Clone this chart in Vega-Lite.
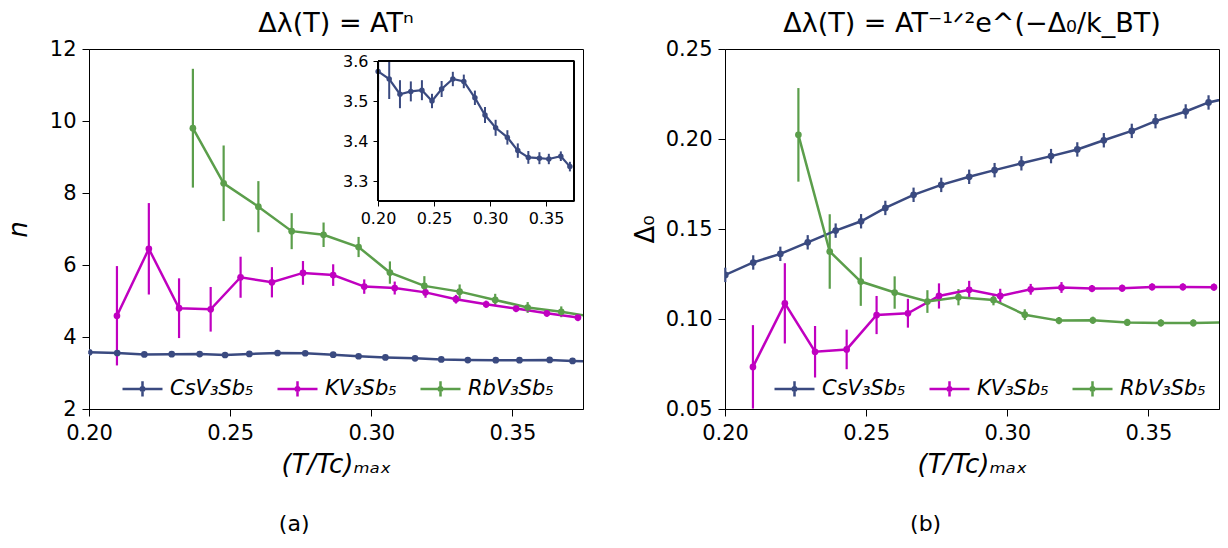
{
  "$schema": "https://vega.github.io/schema/vega-lite/v6.json",
  "background": "white",
  "padding": {"left": 4, "top": 9, "right": 5, "bottom": 5},
  "config": {
    "font": "DejaVu Sans",
    "view": {"stroke": "black", "strokeWidth": 1},
    "axis": {"grid": false, "labelFont": "DejaVu Sans", "labelFontSize": 21, "labelColor": "black", "tickColor": "black", "domainColor": "black", "tickSize": 7, "labelPadding": 6, "labelFlush": false, "labelOverlap": false, "titleFont": "DejaVu Sans", "titleFontSize": 24, "titleFontWeight": "normal", "titleColor": "black"},
    "title": {"font": "DejaVu Sans", "fontSize": 27, "fontWeight": "normal", "color": "black"},
    "legend": {"labelFont": "DejaVu Sans", "labelFontSize": 21, "labelFontStyle": "italic", "labelColor": "black", "symbolType": "M-1,0H1M0,-0.38V0.38M0.09,0A0.09,0.09 0 1,1 -0.09,0A0.09,0.09 0 1,1 0.09,0", "symbolSize": 1600, "symbolStrokeWidth": 2.5, "labelOffset": 6, "columnPadding": 18, "padding": 0}
  },
  "datasets": {
    "a": [
      {"s": "CsV₃Sb₅", "x": 0.2001, "y": 3.574, "e": 0.05},
      {"s": "CsV₃Sb₅", "x": 0.2100, "y": 3.555, "e": 0.05},
      {"s": "CsV₃Sb₅", "x": 0.2196, "y": 3.517, "e": 0.035},
      {"s": "CsV₃Sb₅", "x": 0.2293, "y": 3.524, "e": 0.025},
      {"s": "CsV₃Sb₅", "x": 0.2392, "y": 3.527, "e": 0.025},
      {"s": "CsV₃Sb₅", "x": 0.2482, "y": 3.500, "e": 0.018},
      {"s": "CsV₃Sb₅", "x": 0.2568, "y": 3.530, "e": 0.02},
      {"s": "CsV₃Sb₅", "x": 0.2668, "y": 3.555, "e": 0.018},
      {"s": "CsV₃Sb₅", "x": 0.2766, "y": 3.549, "e": 0.017},
      {"s": "CsV₃Sb₅", "x": 0.2865, "y": 3.508, "e": 0.018},
      {"s": "CsV₃Sb₅", "x": 0.2955, "y": 3.465, "e": 0.02},
      {"s": "CsV₃Sb₅", "x": 0.3050, "y": 3.433, "e": 0.02},
      {"s": "CsV₃Sb₅", "x": 0.3155, "y": 3.409, "e": 0.018},
      {"s": "CsV₃Sb₅", "x": 0.3248, "y": 3.376, "e": 0.018},
      {"s": "CsV₃Sb₅", "x": 0.3342, "y": 3.359, "e": 0.016},
      {"s": "CsV₃Sb₅", "x": 0.3441, "y": 3.357, "e": 0.015},
      {"s": "CsV₃Sb₅", "x": 0.3525, "y": 3.355, "e": 0.013},
      {"s": "CsV₃Sb₅", "x": 0.3632, "y": 3.362, "e": 0.012},
      {"s": "CsV₃Sb₅", "x": 0.3713, "y": 3.336, "e": 0.012},
      {"s": "CsV₃Sb₅", "x": 0.3805, "y": 3.320, "e": 0.01},
      {"s": "KV₃Sb₅", "x": 0.2099, "y": 4.59, "e": 1.38},
      {"s": "KV₃Sb₅", "x": 0.2212, "y": 6.45, "e": 1.27},
      {"s": "KV₃Sb₅", "x": 0.2319, "y": 4.80, "e": 0.83},
      {"s": "KV₃Sb₅", "x": 0.2431, "y": 4.77, "e": 0.62},
      {"s": "KV₃Sb₅", "x": 0.2537, "y": 5.66, "e": 0.57},
      {"s": "KV₃Sb₅", "x": 0.2648, "y": 5.52, "e": 0.42},
      {"s": "KV₃Sb₅", "x": 0.2758, "y": 5.78, "e": 0.33},
      {"s": "KV₃Sb₅", "x": 0.2865, "y": 5.72, "e": 0.30},
      {"s": "KV₃Sb₅", "x": 0.2975, "y": 5.40, "e": 0.20},
      {"s": "KV₃Sb₅", "x": 0.3083, "y": 5.36, "e": 0.18},
      {"s": "KV₃Sb₅", "x": 0.3192, "y": 5.24, "e": 0.15},
      {"s": "KV₃Sb₅", "x": 0.3300, "y": 5.05, "e": 0.12},
      {"s": "KV₃Sb₅", "x": 0.3407, "y": 4.91, "e": 0.10},
      {"s": "KV₃Sb₅", "x": 0.3513, "y": 4.79, "e": 0.10},
      {"s": "KV₃Sb₅", "x": 0.3622, "y": 4.66, "e": 0.10},
      {"s": "KV₃Sb₅", "x": 0.3732, "y": 4.54, "e": 0.10},
      {"s": "RbV₃Sb₅", "x": 0.2368, "y": 9.80, "e": 1.65},
      {"s": "RbV₃Sb₅", "x": 0.2477, "y": 8.27, "e": 1.05},
      {"s": "RbV₃Sb₅", "x": 0.2600, "y": 7.62, "e": 0.71},
      {"s": "RbV₃Sb₅", "x": 0.2718, "y": 6.94, "e": 0.50},
      {"s": "RbV₃Sb₅", "x": 0.2831, "y": 6.84, "e": 0.34},
      {"s": "RbV₃Sb₅", "x": 0.2955, "y": 6.50, "e": 0.28},
      {"s": "RbV₃Sb₅", "x": 0.3066, "y": 5.79, "e": 0.31},
      {"s": "RbV₃Sb₅", "x": 0.3188, "y": 5.42, "e": 0.27},
      {"s": "RbV₃Sb₅", "x": 0.3313, "y": 5.26, "e": 0.20},
      {"s": "RbV₃Sb₅", "x": 0.3439, "y": 5.03, "e": 0.17},
      {"s": "RbV₃Sb₅", "x": 0.3554, "y": 4.82, "e": 0.15},
      {"s": "RbV₃Sb₅", "x": 0.3673, "y": 4.70, "e": 0.15},
      {"s": "RbV₃Sb₅", "x": 0.3790, "y": 4.55, "e": 0.12}
    ],
    "b": [
      {"s": "CsV₃Sb₅", "x": 0.2001, "y": 0.1245, "e": 0.004},
      {"s": "CsV₃Sb₅", "x": 0.2100, "y": 0.1314, "e": 0.004},
      {"s": "CsV₃Sb₅", "x": 0.2196, "y": 0.1362, "e": 0.004},
      {"s": "CsV₃Sb₅", "x": 0.2293, "y": 0.1426, "e": 0.004},
      {"s": "CsV₃Sb₅", "x": 0.2392, "y": 0.1491, "e": 0.004},
      {"s": "CsV₃Sb₅", "x": 0.2482, "y": 0.1543, "e": 0.004},
      {"s": "CsV₃Sb₅", "x": 0.2568, "y": 0.1617, "e": 0.004},
      {"s": "CsV₃Sb₅", "x": 0.2668, "y": 0.1690, "e": 0.004},
      {"s": "CsV₃Sb₅", "x": 0.2766, "y": 0.1745, "e": 0.004},
      {"s": "CsV₃Sb₅", "x": 0.2865, "y": 0.1790, "e": 0.004},
      {"s": "CsV₃Sb₅", "x": 0.2955, "y": 0.1827, "e": 0.004},
      {"s": "CsV₃Sb₅", "x": 0.3050, "y": 0.1865, "e": 0.004},
      {"s": "CsV₃Sb₅", "x": 0.3155, "y": 0.1905, "e": 0.004},
      {"s": "CsV₃Sb₅", "x": 0.3248, "y": 0.1942, "e": 0.004},
      {"s": "CsV₃Sb₅", "x": 0.3342, "y": 0.1993, "e": 0.004},
      {"s": "CsV₃Sb₅", "x": 0.3441, "y": 0.2045, "e": 0.004},
      {"s": "CsV₃Sb₅", "x": 0.3525, "y": 0.2099, "e": 0.004},
      {"s": "CsV₃Sb₅", "x": 0.3632, "y": 0.2153, "e": 0.004},
      {"s": "CsV₃Sb₅", "x": 0.3713, "y": 0.2203, "e": 0.004},
      {"s": "CsV₃Sb₅", "x": 0.3805, "y": 0.2235, "e": 0.004},
      {"s": "KV₃Sb₅", "x": 0.2099, "y": 0.0734, "e": 0.0232},
      {"s": "KV₃Sb₅", "x": 0.2212, "y": 0.1087, "e": 0.0223},
      {"s": "KV₃Sb₅", "x": 0.2319, "y": 0.0818, "e": 0.0143},
      {"s": "KV₃Sb₅", "x": 0.2431, "y": 0.0831, "e": 0.011},
      {"s": "KV₃Sb₅", "x": 0.2537, "y": 0.1022, "e": 0.0106},
      {"s": "KV₃Sb₅", "x": 0.2648, "y": 0.1032, "e": 0.008},
      {"s": "KV₃Sb₅", "x": 0.2758, "y": 0.1128, "e": 0.007},
      {"s": "KV₃Sb₅", "x": 0.2865, "y": 0.1162, "e": 0.005},
      {"s": "KV₃Sb₅", "x": 0.2975, "y": 0.1128, "e": 0.004},
      {"s": "KV₃Sb₅", "x": 0.3083, "y": 0.1165, "e": 0.003},
      {"s": "KV₃Sb₅", "x": 0.3192, "y": 0.1175, "e": 0.003},
      {"s": "KV₃Sb₅", "x": 0.3300, "y": 0.1169, "e": 0.002},
      {"s": "KV₃Sb₅", "x": 0.3407, "y": 0.1171, "e": 0.002},
      {"s": "KV₃Sb₅", "x": 0.3513, "y": 0.1178, "e": 0.002},
      {"s": "KV₃Sb₅", "x": 0.3622, "y": 0.1178, "e": 0.002},
      {"s": "KV₃Sb₅", "x": 0.3732, "y": 0.1177, "e": 0.002},
      {"s": "RbV₃Sb₅", "x": 0.2260, "y": 0.2023, "e": 0.026},
      {"s": "RbV₃Sb₅", "x": 0.2371, "y": 0.1375, "e": 0.0207},
      {"s": "RbV₃Sb₅", "x": 0.2481, "y": 0.1208, "e": 0.0135},
      {"s": "RbV₃Sb₅", "x": 0.2601, "y": 0.1147, "e": 0.009},
      {"s": "RbV₃Sb₅", "x": 0.2717, "y": 0.1097, "e": 0.0063},
      {"s": "RbV₃Sb₅", "x": 0.2827, "y": 0.1121, "e": 0.0045},
      {"s": "RbV₃Sb₅", "x": 0.2951, "y": 0.1106, "e": 0.003},
      {"s": "RbV₃Sb₅", "x": 0.3062, "y": 0.1024, "e": 0.003},
      {"s": "RbV₃Sb₅", "x": 0.3183, "y": 0.0991, "e": 0.002},
      {"s": "RbV₃Sb₅", "x": 0.3303, "y": 0.0993, "e": 0.002},
      {"s": "RbV₃Sb₅", "x": 0.3425, "y": 0.0981, "e": 0.002},
      {"s": "RbV₃Sb₅", "x": 0.3544, "y": 0.0978, "e": 0.002},
      {"s": "RbV₃Sb₅", "x": 0.3659, "y": 0.0978, "e": 0.002},
      {"s": "RbV₃Sb₅", "x": 0.3780, "y": 0.0981, "e": 0.002}
    ]
  },
  "hconcat": [
    {
      "title": {"text": "(a)", "orient": "bottom", "anchor": "middle", "fontSize": 22, "offset": 36},
      "vconcat": [
        {
          "width": 494,
          "height": 360,
          "title": {"text": "Δλ(T) = ATⁿ", "offset": 0},
          "data": {"name": "a"},
          "layer": [
            {
              "encoding": {
                "x": {"field": "x", "type": "quantitative", "scale": {"domain": [0.2, 0.375], "nice": false, "zero": false}, "axis": {"values": [0.2, 0.25, 0.3, 0.35], "format": ".2f", "title": "(T/Tc)ₘₐₓ", "titleFontStyle": "italic", "titleFontSize": 26, "titlePadding": 8}},
                "y": {"field": "y", "type": "quantitative", "scale": {"domain": [2, 12], "nice": false, "zero": false}, "axis": {"values": [2, 4, 6, 8, 10, 12], "title": "n", "titleFontStyle": "italic", "titleFontSize": 26, "titlePadding": 18}},
                "color": {"field": "s", "type": "nominal", "scale": {"domain": ["CsV₃Sb₅", "KV₃Sb₅", "RbV₃Sb₅"], "range": ["#3a4a80", "#c000c0", "#5b9e4b"]}, "legend": {"orient": "none", "legendX": 32, "legendY": 318, "direction": "horizontal", "title": null}}
              },
              "layer": [
                {"transform": [{"filter": "datum.x <= 0.375"}], "mark": {"type": "errorbar", "thickness": 2.2}, "encoding": {"yError": {"field": "e"}}},
                {"mark": {"type": "line", "strokeWidth": 2.5, "clip": true}},
                {"mark": {"type": "point", "filled": true, "size": 45, "opacity": 1, "clip": true}}
              ]
            },
            {
              "encoding": {
                "x": {"field": "x", "type": "quantitative", "scale": {"domain": [-0.058, 0.383], "nice": false, "zero": false}, "axis": {"orient": "bottom", "offset": -208, "values": [0.2, 0.25, 0.3, 0.35], "format": ".2f", "domain": false, "title": null, "labelFontSize": 16, "tickSize": 5, "labelPadding": 4, "zindex": 1}},
                "y": {"field": "y", "type": "quantitative", "scale": {"domain": [2.73, 3.63], "nice": false, "zero": false}, "axis": {"orient": "left", "offset": -289, "values": [3.3, 3.4, 3.5, 3.6], "format": ".1f", "domain": false, "title": null, "labelFontSize": 16, "tickSize": 5, "labelPadding": 5, "zindex": 1}}
              },
              "layer": [
                {"mark": {"type": "rect", "fill": "white", "strokeWidth": 0}, "encoding": {"x": {"datum": 0.2, "type": "quantitative"}, "x2": {"datum": 0.375}, "y": {"datum": 3.25, "type": "quantitative"}, "y2": {"datum": 3.6}}},
                {"transform": [{"filter": "datum.s == 'CsV₃Sb₅' && datum.x <= 0.375"}], "mark": {"type": "errorbar", "thickness": 2, "color": "#3a4a80"}, "encoding": {"yError": {"field": "e"}}},
                {"transform": [{"filter": "datum.s == 'CsV₃Sb₅' && datum.x <= 0.375"}], "mark": {"type": "line", "color": "#3a4a80", "strokeWidth": 2.2}},
                {"transform": [{"filter": "datum.s == 'CsV₃Sb₅' && datum.x <= 0.375"}], "mark": {"type": "point", "filled": true, "size": 30, "opacity": 1, "color": "#3a4a80"}},
                {"mark": {"type": "rect", "fill": "white", "strokeWidth": 0}, "encoding": {"x": {"datum": 0.199, "type": "quantitative"}, "x2": {"datum": 0.376}, "y": {"datum": 3.6, "type": "quantitative"}, "y2": {"datum": 3.626}}},
                {"mark": {"type": "rect", "fill": null, "fillOpacity": 0, "stroke": "black", "strokeWidth": 1}, "encoding": {"x": {"datum": 0.2, "type": "quantitative"}, "x2": {"datum": 0.375}, "y": {"datum": 3.25, "type": "quantitative"}, "y2": {"datum": 3.6}}}
              ]
            }
          ],
          "resolve": {"scale": {"x": "independent", "y": "independent"}, "axis": {"x": "independent", "y": "independent"}}
        }
      ]
    },
    {
      "title": {"text": "(b)", "orient": "bottom", "anchor": "middle", "fontSize": 22, "offset": 36},
      "vconcat": [
        {
          "width": 494,
          "height": 360,
          "title": {"text": "Δλ(T) = AT⁻¹ᐟ²e^(−Δ₀/k_BT)", "offset": 0},
          "data": {"name": "b"},
          "encoding": {
            "x": {"field": "x", "type": "quantitative", "scale": {"domain": [0.2, 0.375], "nice": false, "zero": false}, "axis": {"values": [0.2, 0.25, 0.3, 0.35], "format": ".2f", "title": "(T/Tc)ₘₐₓ", "titleFontStyle": "italic", "titleFontSize": 26, "titlePadding": 8}},
            "y": {"field": "y", "type": "quantitative", "scale": {"domain": [0.05, 0.25], "nice": false, "zero": false}, "axis": {"values": [0.05, 0.1, 0.15, 0.2, 0.25], "format": ".2f", "title": "Δ₀", "titleFontSize": 26, "titlePadding": 7}},
            "color": {"field": "s", "type": "nominal", "scale": {"domain": ["CsV₃Sb₅", "KV₃Sb₅", "RbV₃Sb₅"], "range": ["#3a4a80", "#c000c0", "#5b9e4b"]}, "legend": {"orient": "none", "legendX": 48, "legendY": 318, "direction": "horizontal", "title": null}}
          },
          "layer": [
            {"transform": [{"filter": "datum.x <= 0.375"}], "mark": {"type": "errorbar", "thickness": 2.2}, "encoding": {"yError": {"field": "e"}}},
            {"mark": {"type": "line", "strokeWidth": 2.5, "clip": true}},
            {"mark": {"type": "point", "filled": true, "size": 45, "opacity": 1, "clip": true}}
          ]
        }
      ]
    }
  ],
  "spacing": 47,
  "resolve": {"scale": {"color": "independent"}, "legend": {"color": "independent"}}
}
